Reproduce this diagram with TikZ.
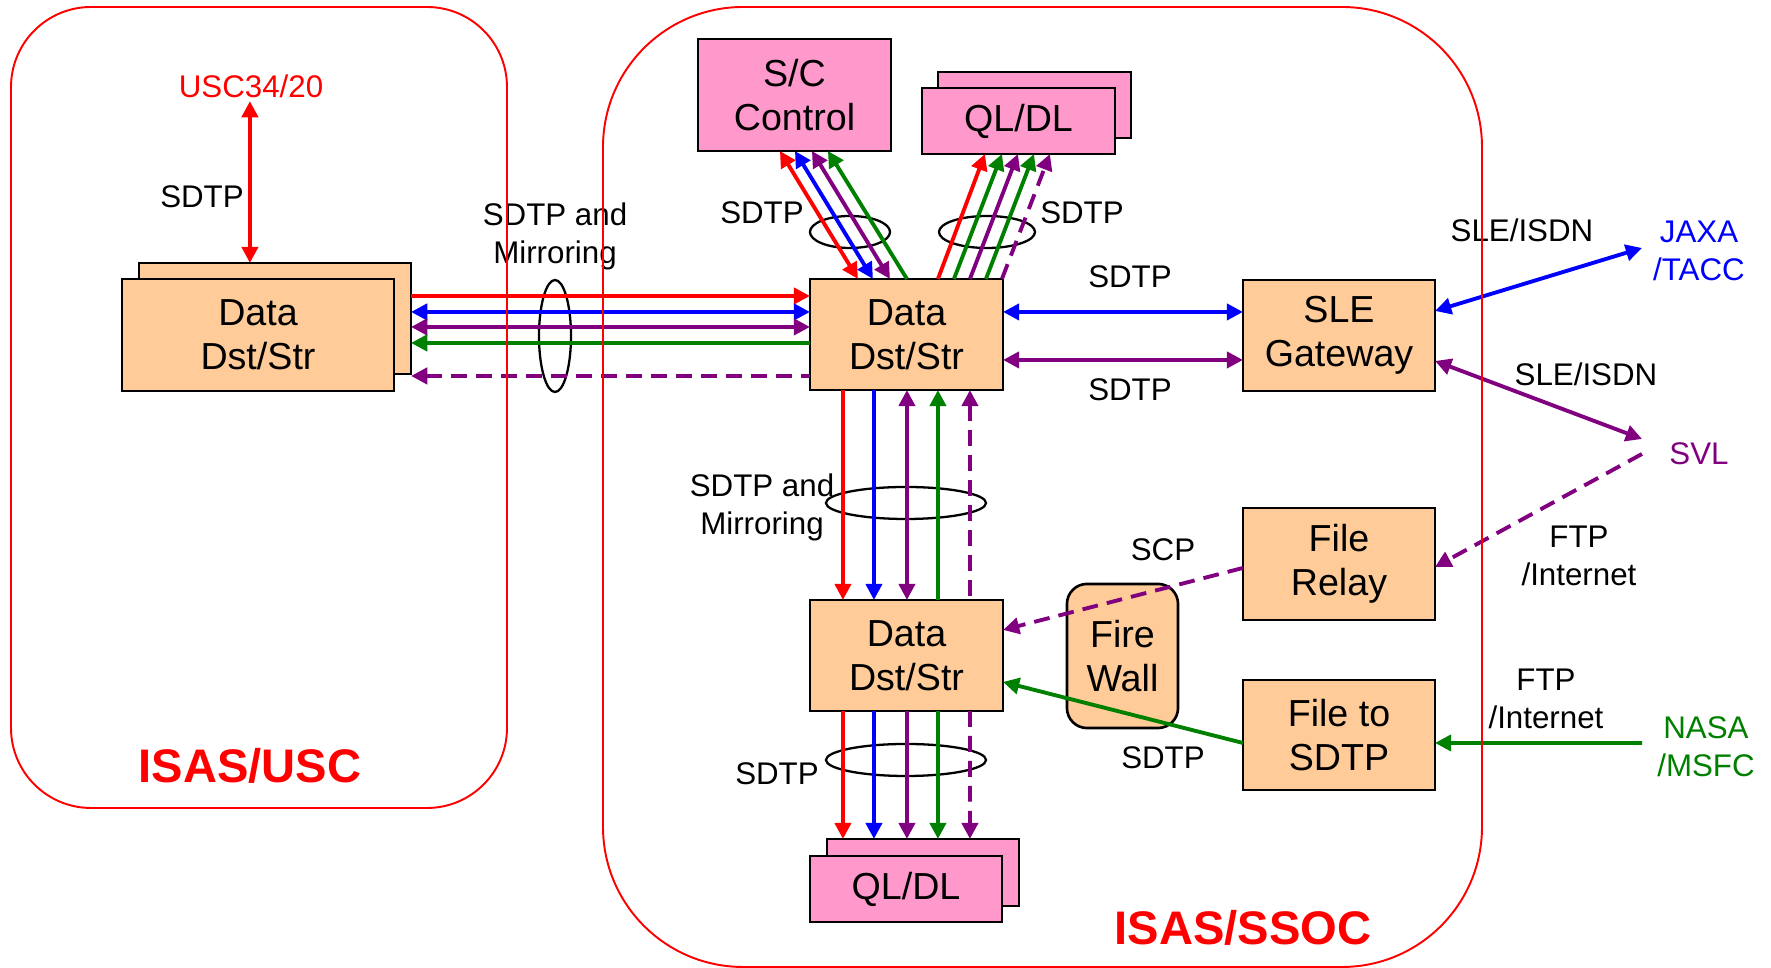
\documentclass[tikz,border=0pt]{standalone}
\usepackage{fontspec}
\setmainfont{Liberation Sans}
\usetikzlibrary{arrows.meta,calc}
\definecolor{orfill}{RGB}{255,204,153}
\definecolor{pkfill}{RGB}{255,153,204}
\definecolor{cpurple}{RGB}{128,0,128}
\definecolor{cgreen}{RGB}{0,128,0}
\newcommand\boxfont{\fontsize{10.7}{12.5}\selectfont}
\newcommand\lblfont{\fontsize{8.9}{10.8}\selectfont}
\newcommand\bigfont{\fontsize{13.4}{16}\selectfont\bfseries}
\begin{document}
\begin{tikzpicture}[x=0.01cm,y=-0.01cm,
  >={Triangle[length=4.6pt,width=4.6pt]},
  obox/.style={draw, line width=0.75pt, fill=orfill, inner sep=0pt, outer sep=0pt, align=center, font=\boxfont},
  pbox/.style={obox, fill=pkfill},
  lbl/.style={font=\lblfont, align=center, inner sep=0pt},
  big/.style={font=\bigfont, text=red, inner sep=0pt, anchor=base},
  conn/.style={line width=1.1pt},
  dsh/.style={dash pattern=on 4.5pt off 2.6pt},
  ring/.style={draw, line width=0.65pt},
  container/.style={draw=red, line width=0.55pt}]
\useasboundingbox (0,0) rectangle (1771,968);

% ---- boxes ----
\node[obox, minimum width=2.72cm, minimum height=1.11cm] (ldback) at (275,318.5) {};
\node[obox, minimum width=2.72cm, minimum height=1.12cm] (ld) at (258,335) {Data\\Dst/Str};
\node[obox, minimum width=1.93cm, minimum height=1.11cm] (dc) at (906.5,334.5) {Data\\Dst/Str};
\node[pbox, minimum width=1.93cm, minimum height=1.12cm] (sc) at (794.5,95) {S/C\\Control};
\node[pbox, minimum width=1.93cm, minimum height=0.66cm] (qtback) at (1034.5,105) {};
\node[pbox, minimum width=1.93cm, minimum height=0.66cm] (qt) at (1018.5,121) {QL/DL};
\node[obox, minimum width=1.92cm, minimum height=1.11cm] (sle) at (1339,335.5) {SLE\\Gateway};
\node[obox, minimum width=1.92cm, minimum height=1.12cm] (fr) at (1339,564) {File\\Relay};
\node[obox, minimum width=1.92cm, minimum height=1.10cm] (fs) at (1339,735) {File to\\SDTP};
\node[obox, minimum width=1.93cm, minimum height=1.11cm] (dm) at (906.5,655.5) {Data\\Dst/Str};
\node[obox, rounded corners=0.2cm, minimum width=1.11cm, minimum height=1.44cm] (fw) at (1122.5,656) {Fire\\Wall};
\node[pbox, minimum width=1.92cm, minimum height=0.67cm] (qbback) at (923,872.5) {};
\node[pbox, minimum width=1.92cm, minimum height=0.66cm] (qb) at (906,889) {QL/DL};

% ---- labels ----
\node[lbl, text=red] (usc) at (251,86) {USC34/20};
\node[lbl] (l1) at (202,197) {SDTP};
\node[lbl] (l2) at (555,236) {SDTP and\\Mirroring};
\node[lbl] (l3) at (762,213) {SDTP};
\node[lbl] (l4) at (1082,213) {SDTP};
\node[lbl] (l5) at (1130,277) {SDTP};
\node[lbl] (l6) at (1130,390) {SDTP};
\node[lbl] (l7) at (762,507) {SDTP and\\Mirroring};
\node[lbl] (l8) at (1163,550) {SCP};
\node[lbl] (l9) at (1163,758) {SDTP};
\node[lbl] (l10) at (777,774) {SDTP};
\node[lbl] (l11) at (1522,230) {SLE/ISDN};
\node[lbl] (l12) at (1586,374) {SLE/ISDN};
\node[lbl] (l13) at (1579,556) {FTP\\/Internet};
\node[lbl] (l14) at (1546,699) {FTP\\/Internet};
\node[lbl, text=blue] (jaxa) at (1699,251) {JAXA\\/TACC};
\node[lbl, text=cpurple] (svl) at (1699,454) {SVL};
\node[lbl, text=cgreen] (nasa) at (1706,747) {NASA\\/MSFC};
\node[big] (usclbl) at (250,783) {ISAS/USC};
\node[big] (ssoclbl) at (1243,945) {ISAS/SSOC};

% ---- ellipses ----
\draw[ring] (555,336) ellipse [x radius=0.16cm, y radius=0.56cm];
\draw[ring] (850,232) ellipse [x radius=0.40cm, y radius=0.16cm];
\draw[ring] (987,232) ellipse [x radius=0.48cm, y radius=0.16cm];
\draw[ring] (906,503) ellipse [x radius=0.80cm, y radius=0.16cm];
\draw[ring] (906,760) ellipse [x radius=0.80cm, y radius=0.16cm];

% ---- connectors ----
\coordinate (uscb) at ($(ldback.north west)+(111,0)$);
\draw[conn,red,<->] ($(uscb |- usc.south)+(0,3)$) -- (uscb);

\draw[conn,red,->] ($(ldback.north east)+(0,33)$) -- ($(dc.north west)+(0,17)$);
\draw[conn,blue,<->] ($(ldback.north east)+(0,49)$) -- ($(dc.north west)+(0,33)$);
\draw[conn,cpurple,<->] ($(ldback.north east)+(0,64)$) -- ($(dc.north west)+(0,48)$);
\draw[conn,cgreen,<-] ($(ldback.north east)+(0,80)$) -- ($(dc.north west)+(0,64)$);
\draw[conn,cpurple,dsh,<-] ($(ldback.north east)+(0,113)$) -- ($(dc.north west)+(0,97)$);

\draw[conn,red,<->] ($(sc.south west)+(82,0)$) -- ($(dc.north west)+(48,0)$);
\draw[conn,blue,<->] ($(sc.south west)+(97,0)$) -- ($(dc.north west)+(63,0)$);
\draw[conn,cpurple,<->] ($(sc.south west)+(114,0)$) -- ($(dc.north west)+(80,0)$);
\draw[conn,cgreen,<-] ($(sc.south west)+(130,0)$) -- ($(dc.north west)+(97,0)$);

\draw[conn,red,->] ($(dc.north west)+(128,0)$) -- ($(qt.south west)+(63,0)$);
\draw[conn,cgreen,->] ($(dc.north west)+(144,0)$) -- ($(qt.south west)+(80,0)$);
\draw[conn,cpurple,->] ($(dc.north west)+(160,0)$) -- ($(qt.south west)+(96,0)$);
\draw[conn,cgreen,->] ($(dc.north west)+(176,0)$) -- ($(qt.south west)+(112,0)$);
\draw[conn,cpurple,dsh,->] ($(dc.north west)+(192,0)$) -- ($(qt.south west)+(128,0)$);

\draw[conn,blue,<->] ($(dc.north east)+(0,33)$) -- ($(sle.north west)+(0,32)$);
\draw[conn,cpurple,<->] ($(dc.north east)+(0,81)$) -- ($(sle.north west)+(0,80)$);

\draw[conn,red,->] ($(dc.south west)+(33,0)$) -- ($(dm.north west)+(33,0)$);
\draw[conn,blue,->] ($(dc.south west)+(64,0)$) -- ($(dm.north west)+(64,0)$);
\draw[conn,cpurple,<->] ($(dc.south west)+(97,0)$) -- ($(dm.north west)+(97,0)$);
\draw[conn,cgreen,<-] ($(dc.south west)+(128,0)$) -- ($(dm.north west)+(128,0)$);
\draw[conn,cpurple,dsh,<-] ($(dc.south west)+(160,0)$) -- ($(dm.north west)+(160,0)$);

\draw[conn,red,->] ($(dm.south west)+(33,0)$) -- ($(qbback.north west)+(16,0)$);
\draw[conn,blue,->] ($(dm.south west)+(64,0)$) -- ($(qbback.north west)+(47,0)$);
\draw[conn,cpurple,->] ($(dm.south west)+(97,0)$) -- ($(qbback.north west)+(80,0)$);
\draw[conn,cgreen,->] ($(dm.south west)+(128,0)$) -- ($(qbback.north west)+(111,0)$);
\draw[conn,cpurple,dsh,->] ($(dm.south west)+(160,0)$) -- ($(qbback.north west)+(143,0)$);

\draw[conn,cpurple,dsh,->] ($(fr.north west)+(0,60)$) -- ($(dm.north east)+(0,30)$);
\draw[conn,cgreen,->] ($(fs.north west)+(0,63)$) -- ($(dm.north east)+(0,82)$);

\coordinate (jx) at (1642,248);
\coordinate (svlin) at (1642,439);
\coordinate (svlout) at (1642,454);
\coordinate (nx) at (1642,743);
\draw[conn,blue,<->] ($(sle.north east)+(0,31)$) -- (jx);
\draw[conn,cpurple,<->] ($(sle.north east)+(0,81)$) -- (svlin);
\draw[conn,cpurple,dsh,->] (svlout) -- ($(fr.north east)+(0,59)$);
\draw[conn,cgreen,->] (nx) -- ($(fs.north east)+(0,63)$);

% ---- containers ----
\draw[container, rounded corners=0.8cm] (11,7) rectangle (507,808);
\draw[container, rounded corners=1.4cm] (603,7) rectangle (1482,967);
\end{tikzpicture}
\end{document}
